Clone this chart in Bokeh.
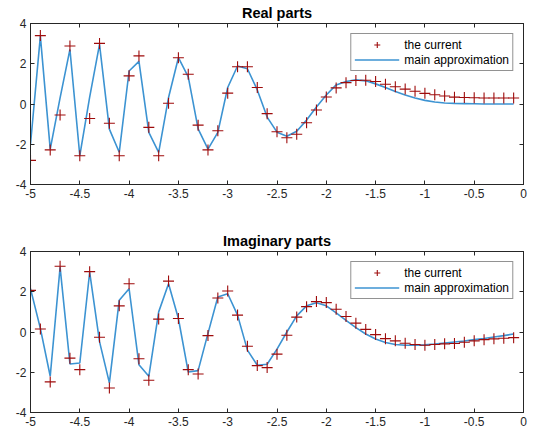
from bokeh.plotting import figure
from bokeh.layouts import column
from bokeh.models import Range1d, FixedTicker, LinearAxis, Legend, LegendItem
from bokeh.embed import file_html
from bokeh.resources import INLINE

# ---------------- data ----------------
x = [-5.0, -4.9, -4.8, -4.7, -4.6, -4.5, -4.4, -4.3, -4.2, -4.1,
     -4.0, -3.9, -3.8, -3.7, -3.6, -3.5, -3.4, -3.3, -3.2, -3.1,
     -3.0, -2.9, -2.8, -2.7, -2.6, -2.5, -2.4, -2.3, -2.2, -2.1,
     -2.0, -1.9, -1.8, -1.7, -1.6, -1.5, -1.4, -1.3, -1.2, -1.1,
     -1.0, -0.9, -0.8, -0.7, -0.6, -0.5, -0.4, -0.3, -0.2, -0.1]

real_current = [-2.8, 3.4, -2.28, -0.55, 2.88, -2.57, -0.72, 3.01, -0.96, -2.57,
                1.4, 2.39, -1.16, -2.57, 0.04, 2.3, 1.48, -1.05, -2.28, -1.33,
                0.54, 1.85, 1.85, 0.82, -0.48, -1.38, -1.68, -1.5, -0.93, -0.3,
                0.35, 0.8, 1.06, 1.17, 1.18, 1.12, 0.98, 0.86, 0.74, 0.63,
                0.53, 0.46, 0.4, 0.34, 0.32, 0.31, 0.3, 0.3, 0.3, 0.3]

real_approx = [-2.0, 3.37, -2.24, 0.3, 2.71, -2.57, 0.34, 2.96, -1.25, -2.4,
               1.64, 2.12, -1.41, -2.4, 0.32, 2.3, 1.35, -1.24, -2.24, -1.41,
               0.82, 1.89, 1.75, 0.7, -0.65, -1.4, -1.6, -1.35, -0.8, -0.15,
               0.45, 0.95, 1.12, 1.2, 1.15, 1.0, 0.82, 0.62, 0.45, 0.3,
               0.18, 0.1, 0.05, 0.03, 0.02, 0.01, 0.0, 0.0, 0.0, 0.0]

imag_current = [2.07, 0.15, -2.48, 3.27, -1.3, -1.87, 3.0, -0.26, -2.78, 1.3,
                2.4, -1.33, -2.4, 0.64, 2.53, 0.67, -1.87, -2.09, -0.18, 1.69,
                2.04, 0.84, -0.71, -1.67, -1.77, -1.1, -0.16, 0.74, 1.26, 1.51,
                1.46, 1.13, 0.77, 0.44, 0.13, -0.13, -0.33, -0.44, -0.56, -0.62,
                -0.66, -0.62, -0.59, -0.57, -0.51, -0.44, -0.38, -0.34, -0.31, -0.28]

imag_approx = [2.15, 0.18, -2.2, 3.22, -1.59, -1.54, 2.97, -0.48, -2.53, 1.58,
               2.15, -1.63, -2.2, 1.0, 2.4, 0.67, -1.99, -1.92, -0.07, 1.74,
               1.9, 0.84, -0.9, -1.65, -1.6, -0.85, 0.0, 0.8, 1.3, 1.45,
               1.3, 0.95, 0.58, 0.22, -0.1, -0.35, -0.52, -0.62, -0.66, -0.66,
               -0.64, -0.6, -0.55, -0.5, -0.45, -0.38, -0.32, -0.25, -0.18, -0.1]

x_ticks = [-5, -4.5, -4, -3.5, -3, -2.5, -2, -1.5, -1, -0.5, 0]
x_tick_labels = ["-5", "-4.5", "-4", "-3.5", "-3", "-2.5", "-2", "-1.5", "-1", "-0.5", "0"]
y_ticks = [-4, -2, 0, 2, 4]
y_tick_labels = ["-4", "-2", "0", "2", "4"]

titles = ["Real parts", "Imaginary parts"]
legend_labels = ["the current", "main approximation"]

# ---------------- style ----------------
FONT = "Liberation Sans"
AX = "#262626"
RED = "#9E0B0B"
BLUE = "#3C93D2"


def style_axis(ax, ticks, labels, show_labels=True):
    ax.ticker = FixedTicker(ticks=ticks)
    ax.major_tick_in = 4
    ax.major_tick_out = 0
    ax.minor_tick_line_color = None
    ax.axis_line_color = AX
    ax.major_tick_line_color = AX
    ax.major_label_text_font = FONT
    if show_labels:
        ax.major_label_overrides = {t: l for t, l in zip(ticks, labels)}
        ax.major_label_text_color = AX
        ax.major_label_text_font_size = "12px"
        ax.major_label_standoff = 4
    else:
        ax.major_label_text_color = None
        ax.major_label_text_font_size = "1px"
        ax.major_label_standoff = 0


def make_plot(title, current, approx, top_border, bottom_border):
    p = figure(frame_width=493, frame_height=161,
               x_range=Range1d(-5, 0), y_range=Range1d(-4, 4),
               output_backend="svg", toolbar_location=None,
               min_border_left=30, min_border_right=18,
               min_border_top=top_border, min_border_bottom=bottom_border)
    p.grid.visible = False
    p.outline_line_color = AX
    p.background_fill_color = "white"
    p.border_fill_color = "white"

    p.title.text = title
    p.title.align = "center"
    p.title.text_font = FONT
    p.title.text_font_size = "14.5px"
    p.title.text_font_style = "bold"
    p.title.text_color = "black"
    p.title.standoff = 5
    p.title.offset = 0

    style_axis(p.xaxis[0], x_ticks, x_tick_labels)
    style_axis(p.yaxis[0], y_ticks, y_tick_labels)
    top = LinearAxis()
    style_axis(top, x_ticks, x_tick_labels, show_labels=False)
    right = LinearAxis()
    style_axis(right, y_ticks, y_tick_labels, show_labels=False)
    p.add_layout(top, "above")
    p.add_layout(right, "right")

    ln = p.line(x, approx, line_color=BLUE, line_width=1.6)
    sc = p.scatter(x, current, marker="cross", size=11, line_color=RED,
                   line_width=1.1)

    legend = Legend(items=[LegendItem(label=legend_labels[0], renderers=[sc]),
                           LegendItem(label=legend_labels[1], renderers=[ln])],
                    location="top_right")
    legend.margin = 10
    legend.padding = 3
    legend.spacing = 0
    legend.glyph_width = 45
    legend.glyph_height = 15
    legend.label_height = 15
    legend.label_standoff = 5
    legend.label_text_font = FONT
    legend.label_text_font_size = "12px"
    legend.label_text_color = "black"
    legend.border_line_color = AX
    legend.border_line_width = 1
    legend.background_fill_alpha = 1.0
    p.add_layout(legend, "center")
    return p


p1 = make_plot(titles[0], real_current, real_approx, 0, 44)
p2 = make_plot(titles[1], imag_current, imag_approx, 0, 14)

layout = column(p1, p2, spacing=0)
open("out.html", "w").write(file_html(layout, INLINE))
